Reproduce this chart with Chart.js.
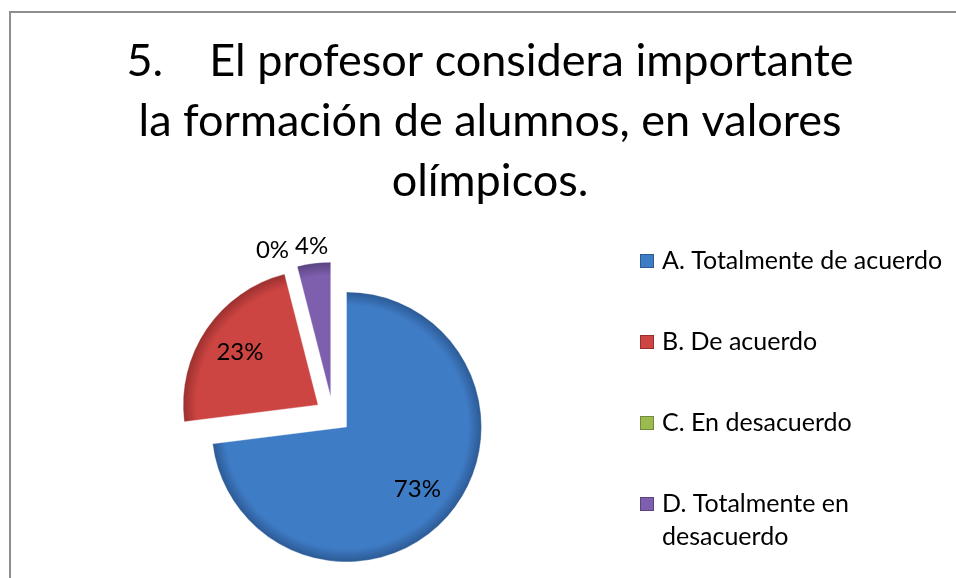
<!DOCTYPE html>
<html>
<head>
<meta charset="utf-8">
<script src="https://cdn.jsdelivr.net/npm/chart.js@4/dist/chart.umd.min.js"></script>
<style>
  html, body { margin: 0; padding: 0; background: #fff; overflow: hidden; }
  #wrap { position: relative; width: 956px; height: 578px; }
  #frame { position: absolute; left: 9px; top: 11px; width: 2000px; height: 2000px;
           border-left: 2px solid #8e8e8e; border-top: 2px solid #8e8e8e; pointer-events: none; }
</style>
</head>
<body>
<div id="wrap">
  <canvas id="pie" width="956" height="578"></canvas>
  <div id="frame"></div>
</div>
<script>
// DATOS
const categorias = ['A. Totalmente de acuerdo', 'B. De acuerdo', 'C. En desacuerdo', 'D. Totalmente en desacuerdo'];
const porcentajes = [73, 23, 0, 4];
const titulo = ['5.    El profesor considera importante', 'la formación de alumnos, en valores', 'olímpicos.'];

// estilo
const colores = ['#3f7cc6', '#cd4542', '#9bbb4f', '#7e5fae'];
const oscuros = ['#2c5a94', '#9a302e', '#71893a', '#5a4380'];
const FUENTE = 'Lato, Carlito, Calibri, sans-serif';
const PIE_CX = 333, PIE_CY = 415, RADIO = 135, SEPARACION = 18;
const LEY_X = 640, LEY_Y0 = 261, LEY_PASO = 81;

const total = porcentajes.reduce((a, b) => a + b, 0);

function anguloMedio(i) {
  let antes = 0;
  for (let k = 0; k < i; k++) antes += porcentajes[k];
  return -Math.PI / 2 + 2 * Math.PI * (antes + porcentajes[i] / 2) / total;
}

// relleno con borde algo mas oscuro (efecto bisel)
function relleno(c) {
  const i = c.dataIndex;
  const m = anguloMedio(i);
  const cx = PIE_CX + Math.cos(m) * SEPARACION, cy = PIE_CY + Math.sin(m) * SEPARACION;
  const g = c.chart.ctx.createRadialGradient(cx, cy, 0, cx, cy, RADIO);
  g.addColorStop(0, colores[i]);
  g.addColorStop(0.9, colores[i]);
  g.addColorStop(1, oscuros[i]);
  return g;
}

// coloca el pastel a la izquierda, bajo el titulo
const areaPastel = {
  id: 'areaPastel',
  afterLayout(chart) {
    const a = chart.chartArea;
    a.left = PIE_CX - RADIO; a.right = PIE_CX + RADIO;
    a.top = PIE_CY - RADIO; a.bottom = PIE_CY + RADIO;
    a.width = 2 * RADIO; a.height = 2 * RADIO;
  }
};

// porciones separadas del centro
const separar = {
  id: 'separar',
  afterDatasetsUpdate(chart) {
    chart.getDatasetMeta(0).data.forEach(arc => {
      const mid = (arc.startAngle + arc.endAngle) / 2;
      arc.x += Math.cos(mid) * SEPARACION;
      arc.y += Math.sin(mid) * SEPARACION;
    });
  }
};

// etiquetas de porcentaje
const etiquetas = {
  id: 'etiquetas',
  afterDatasetsDraw(chart) {
    const ctx = chart.ctx;
    const arcos = chart.getDatasetMeta(0).data;
    const cajas = [];
    ctx.save();
    ctx.font = '24px ' + FUENTE;
    ctx.fillStyle = '#000';
    ctx.textAlign = 'center';
    ctx.textBaseline = 'middle';
    for (let i = arcos.length - 1; i >= 0; i--) {
      const arc = arcos[i];
      const frac = porcentajes[i] / total;
      const mid = (arc.startAngle + arc.endAngle) / 2;
      const d = frac < 0.1 ? arc.outerRadius * 1.13 : arc.outerRadius * 0.7;
      let x = arc.x + Math.cos(mid) * d;
      const y = arc.y + Math.sin(mid) * d;
      const txt = Math.round(frac * 100) + '%';
      const w = ctx.measureText(txt).width;
      cajas.forEach(b => {
        if (Math.abs(y - b.y) < 24 && x + w / 2 > b.x - b.w / 2 - 6 && x - w / 2 < b.x + b.w / 2 + 6) {
          x = b.x - b.w / 2 - 6 - w / 2;
        }
      });
      cajas.push({x, y, w});
      ctx.fillText(txt, x, y);
    }
    ctx.restore();
  }
};

function partir(ctx, texto, ancho) {
  const palabras = texto.split(' ');
  const lineas = [];
  let actual = '';
  palabras.forEach(p => {
    const prueba = actual ? actual + ' ' + p : p;
    if (ctx.measureText(prueba).width > ancho && actual) {
      lineas.push(actual);
      actual = p;
    } else actual = prueba;
  });
  lineas.push(actual);
  return lineas;
}

// leyenda a la derecha
const leyenda = {
  id: 'leyenda',
  afterDraw(chart) {
    const ctx = chart.ctx;
    ctx.save();
    ctx.font = '25px ' + FUENTE;
    ctx.textBaseline = 'middle';
    chart.data.labels.forEach((txt, i) => {
      const y = LEY_Y0 + i * LEY_PASO;
      ctx.fillStyle = colores[i];
      ctx.fillRect(LEY_X, y - 7, 14, 14);
      ctx.strokeStyle = oscuros[i];
      ctx.lineWidth = 1;
      ctx.strokeRect(LEY_X + 0.5, y - 6.5, 13, 13);
      ctx.fillStyle = '#000';
      partir(ctx, txt, 292).forEach((l, j) => ctx.fillText(l, LEY_X + 22, y + j * 33));
    });
    ctx.restore();
  }
};

new Chart(document.getElementById('pie'), {
  type: 'pie',
  data: {
    labels: categorias,
    datasets: [{
      data: porcentajes,
      backgroundColor: relleno,
      borderColor: 'rgba(255,255,255,0.35)',
      borderWidth: 1,
      clip: false
    }]
  },
  options: {
    responsive: false,
    animation: false,
    events: [],
    radius: RADIO,
    layout: { padding: { left: 24, right: 0, top: 0, bottom: 0 } },
    plugins: {
      legend: { display: false },
      tooltip: { enabled: false },
      title: {
        display: true,
        text: titulo,
        color: '#000',
        font: { family: FUENTE, size: 45, weight: 'normal', lineHeight: 1.33 },
        padding: { top: 32, bottom: 0 }
      }
    }
  },
  plugins: [areaPastel, separar, etiquetas, leyenda]
});
</script>
</body>
</html>
